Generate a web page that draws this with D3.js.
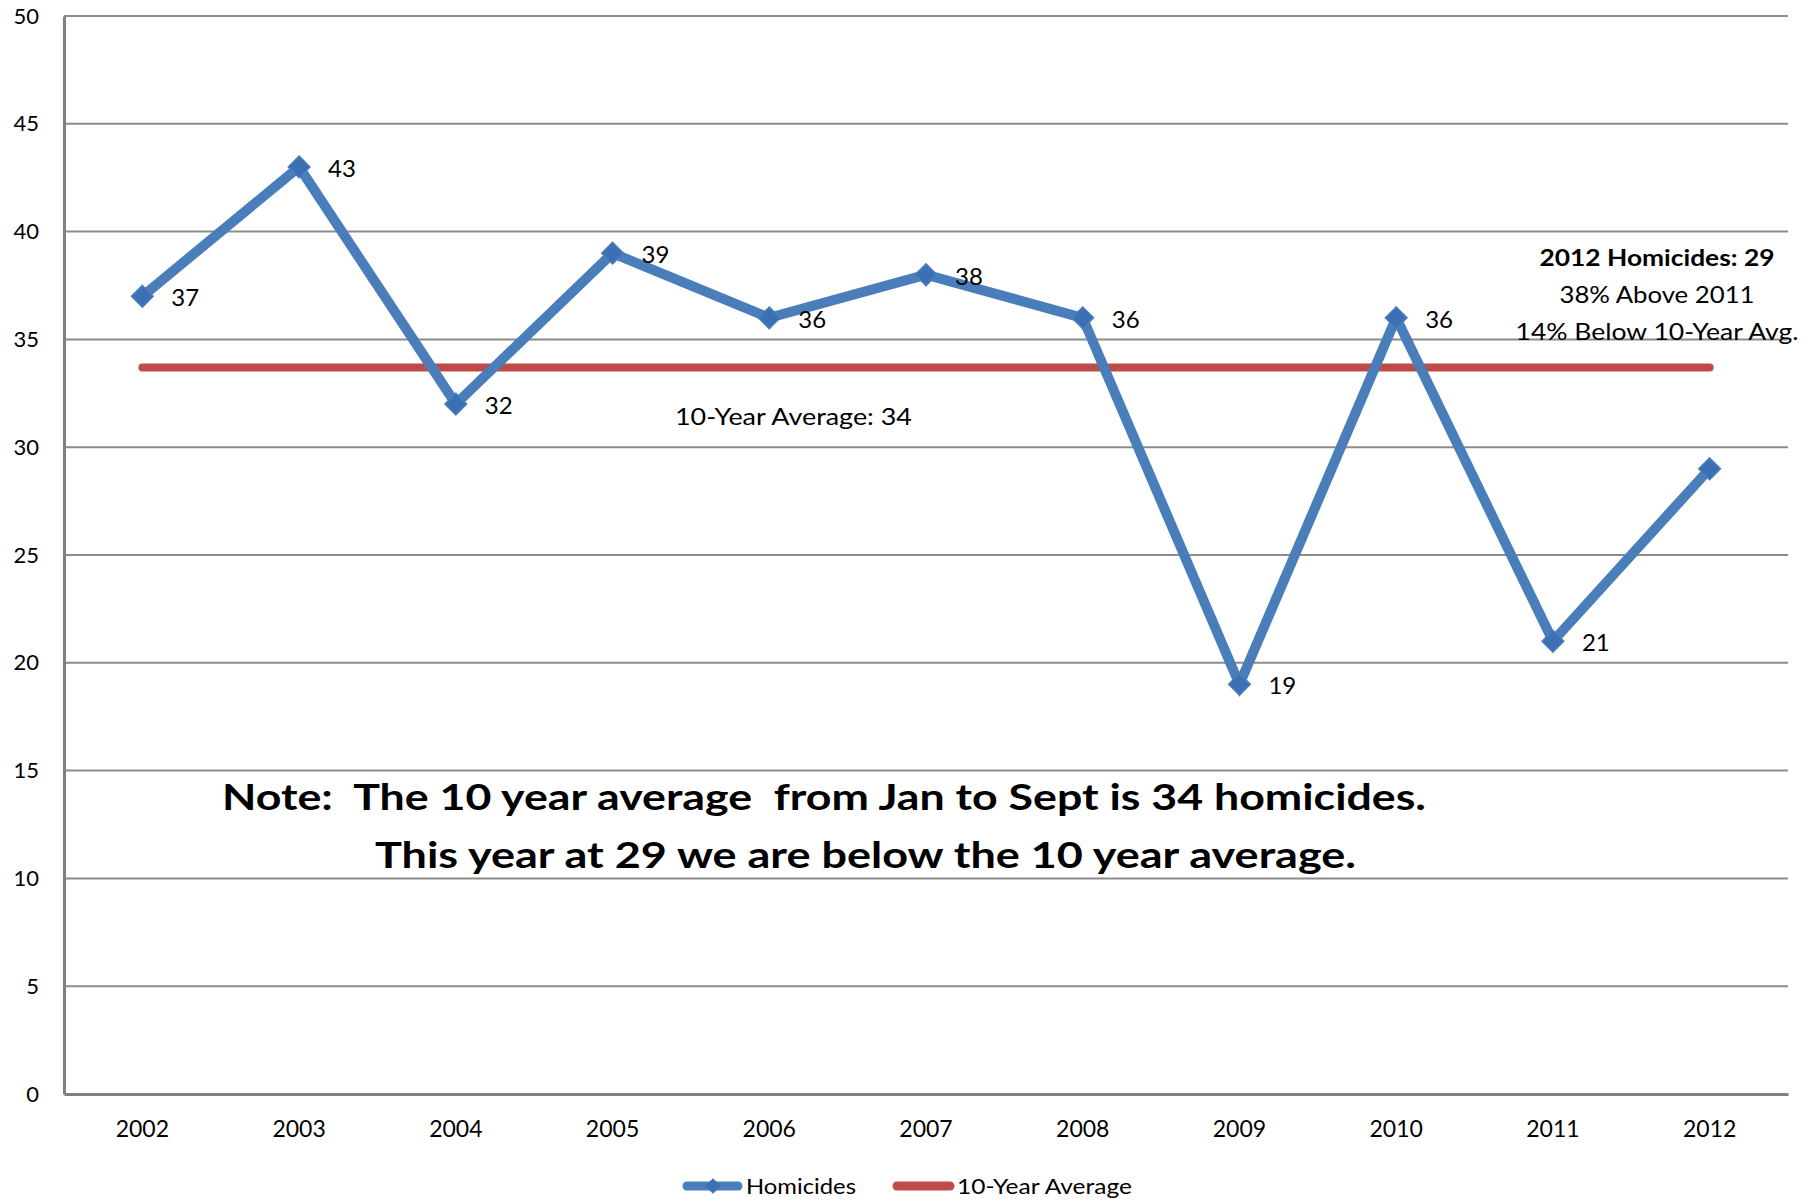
<!DOCTYPE html>
<html>
<head>
<meta charset="utf-8">
<script src="https://cdn.jsdelivr.net/npm/d3@7"></script>
<style>
  body { margin: 0; background: #fff; }
  svg { display: block; font-family: Lato, "Open Sans", sans-serif; }
  text { white-space: pre; }
</style>
</head>
<body>
<div id="chart"></div>
<script>
// Datos
var years = ["2002","2003","2004","2005","2006","2007","2008","2009","2010","2011","2012"];
var homicides = [37, 43, 32, 39, 36, 38, 36, 19, 36, 21, 29];
var average = [33.7, 33.7, 33.7, 33.7, 33.7, 33.7, 33.7, 33.7, 33.7, 33.7, 33.7];
var yTicks = [0, 5, 10, 15, 20, 25, 30, 35, 40, 45, 50];
var etiquetas = ["37","43","32","39","36","38","36","19","36","21",""];
var seriesNames = ["Homicides", "10-Year Average"];
var noteLines = ["Note:  The 10 year average  from Jan to Sept is 34 homicides.",
                 "This year at 29 we are below the 10 year average."];
var avgLabel = "10-Year Average: 34";
var resumen = ["2012 Homicides: 29", "38% Above 2011", "14% Below 10-Year Avg."];

var svgWidth = 1816;
var svgHeight = 1202;

var colorAzul = "#4a7ebb";
var colorMarcador = "#3b70b4";
var colorRojo = "#be4b48";
var colorGrilla = "#8c8c8c";

var svg = d3.select("#chart")
  .append("svg")
  .attr("width", svgWidth)
  .attr("height", svgHeight);

var x = d3.scaleBand().domain(years).range([64, 1788]);
var y = d3.scaleLinear().domain([0, 50]).range([1094, 16]);
function cx(d) { return x(d) + x.bandwidth() / 2; }

// Grilla horizontal
svg.append("g")
  .selectAll("line")
  .data(yTicks.slice(1))
  .join("line")
  .attr("x1", 64).attr("x2", 1788)
  .attr("y1", function(d){ return y(d); })
  .attr("y2", function(d){ return y(d); })
  .attr("stroke", colorGrilla)
  .attr("stroke-width", 2);

// Ejes
var ejeY = svg.append("g")
  .attr("transform", "translate(64,0)")
  .call(d3.axisLeft(y).tickValues(yTicks).tickSize(0).tickPadding(25));
ejeY.select(".domain").attr("stroke", "#808080").attr("stroke-width", 3);
ejeY.selectAll("text").attr("font-size", 22).attr("fill", "#000")
  .attr("font-family", "Lato, sans-serif");

var ejeX = svg.append("g")
  .attr("transform", "translate(0,1094)")
  .call(d3.axisBottom(x).tickSize(0).tickPadding(27));
ejeX.select(".domain").attr("stroke", "#808080").attr("stroke-width", 3);
ejeX.selectAll("text").attr("font-size", 23).attr("fill", "#000")
  .attr("font-family", "Lato, sans-serif");

// Linea del promedio
var lineaProm = d3.line()
  .x(function(d, i){ return cx(years[i]); })
  .y(function(d){ return y(d); });

svg.append("path")
  .datum(average)
  .attr("d", lineaProm)
  .attr("fill", "none")
  .attr("stroke", colorRojo)
  .attr("stroke-width", 8)
  .attr("stroke-linecap", "round");

// Linea de homicidios
svg.append("path")
  .datum(homicides)
  .attr("d", lineaProm)
  .attr("fill", "none")
  .attr("stroke", colorAzul)
  .attr("stroke-width", 10)
  .attr("stroke-linejoin", "miter");

// Marcadores
var diamante = d3.symbol().type(d3.symbolDiamond2).size(300);
svg.append("g")
  .selectAll("path")
  .data(homicides)
  .join("path")
  .attr("d", diamante)
  .attr("transform", function(d, i){ return "translate(" + cx(years[i]) + "," + y(d) + ")"; })
  .attr("fill", colorMarcador)
  .attr("stroke", "#4a7ebb")
  .attr("stroke-width", 1.5);

// Etiquetas de datos
svg.append("g")
  .selectAll("text")
  .data(homicides)
  .join("text")
  .attr("x", function(d, i){ return cx(years[i]) + 29; })
  .attr("y", function(d){ return y(d) + 10; })
  .attr("font-size", 24)
  .text(function(d, i){ return etiquetas[i]; });

// Texto del promedio
svg.append("text")
  .attr("x", 675).attr("y", 425)
  .attr("font-size", 24)
  .attr("textLength", 237)
  .attr("lengthAdjust", "spacingAndGlyphs")
  .text(avgLabel);

// Resumen 2012
svg.append("g")
  .selectAll("text")
  .data(resumen)
  .join("text")
  .attr("x", 1657)
  .attr("y", function(d, i){ return [266, 303, 340][i]; })
  .attr("text-anchor", "middle")
  .attr("font-size", 23)
  .attr("font-weight", function(d, i){ return i === 0 ? "bold" : "normal"; })
  .attr("textLength", function(d, i){ return [235, 195, 283][i]; })
  .attr("lengthAdjust", "spacingAndGlyphs")
  .text(function(d){ return d; });

// Nota
svg.append("g")
  .selectAll("text")
  .data(noteLines)
  .join("text")
  .attr("x", function(d, i){ return [222, 375][i]; })
  .attr("y", function(d, i){ return [810, 868][i]; })
  .attr("font-size", 37)
  .attr("font-weight", "bold")
  .attr("textLength", function(d, i){ return [1204, 981][i]; })
  .attr("lengthAdjust", "spacingAndGlyphs")
  .text(function(d){ return d; });

// Leyenda
var leyenda = svg.append("g").attr("transform", "translate(0,1186)");
leyenda.append("line")
  .attr("x1", 687).attr("x2", 738).attr("y1", 0).attr("y2", 0)
  .attr("stroke", colorAzul).attr("stroke-width", 9).attr("stroke-linecap", "round");
leyenda.append("path")
  .attr("d", d3.symbol().type(d3.symbolDiamond2).size(150))
  .attr("transform", "translate(713,0)")
  .attr("fill", colorMarcador);
leyenda.append("line")
  .attr("x1", 897).attr("x2", 950).attr("y1", 0).attr("y2", 0)
  .attr("stroke", colorRojo).attr("stroke-width", 9).attr("stroke-linecap", "round");
leyenda.selectAll("text")
  .data(seriesNames)
  .join("text")
  .attr("x", function(d, i){ return [746, 957][i]; })
  .attr("y", 8)
  .attr("font-size", 22)
  .attr("textLength", function(d, i){ return [110, 175][i]; })
  .attr("lengthAdjust", "spacingAndGlyphs")
  .text(function(d){ return d; });
</script>
</body>
</html>
